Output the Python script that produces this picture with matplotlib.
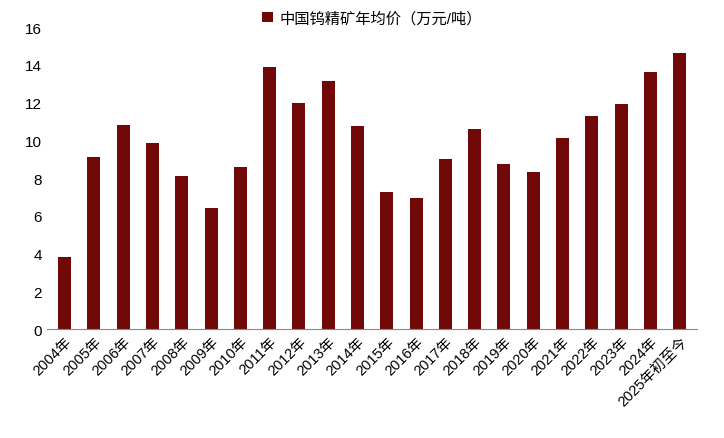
import matplotlib
matplotlib.use("Agg")
import matplotlib.pyplot as plt

plt.rcParams['font.family'] = ['Liberation Sans', 'Noto Sans CJK SC']

categories = ["2004年","2005年","2006年","2007年","2008年","2009年","2010年","2011年","2012年","2013年","2014年",
              "2015年","2016年","2017年","2018年","2019年","2020年","2021年","2022年","2023年","2024年","2025年初至今"]
values = [3.8, 9.1, 10.8, 9.85, 8.1, 6.4, 8.6, 13.9, 12.0, 13.15, 10.75,
          7.25, 6.95, 9.0, 10.6, 8.75, 8.3, 10.15, 11.3, 11.9, 13.6, 14.65]
series_name = "中国钨精矿年均价（万元/吨）"

fig = plt.figure(figsize=(7.24, 4.39), dpi=100)
ax = fig.add_axes([0.065, 0.248, 0.898, 0.688])
ax.bar(range(len(categories)), values, width=0.44, color="#700808", label=series_name)
ax.set_ylim(0, 16)
ax.set_yticks(range(0, 17, 2))
ax.set_xlim(-0.6, len(categories) - 0.4)
ax.set_xticks(range(len(categories)))
ax.set_xticklabels(categories, rotation=45, ha='right', rotation_mode='anchor', fontsize=10.5)
ax.tick_params(axis='y', labelsize=11, length=0)
ax.tick_params(axis='x', length=0)
for s in ['top', 'right', 'left']:
    ax.spines[s].set_visible(False)
ax.spines['bottom'].set_color('#888888')
ax.legend(loc='upper center', bbox_to_anchor=(0.5, 1.1), frameon=False, fontsize=11,
          handlelength=0.7, handleheight=0.7, handletextpad=0.4)
fig.savefig("out.png", dpi=100)
